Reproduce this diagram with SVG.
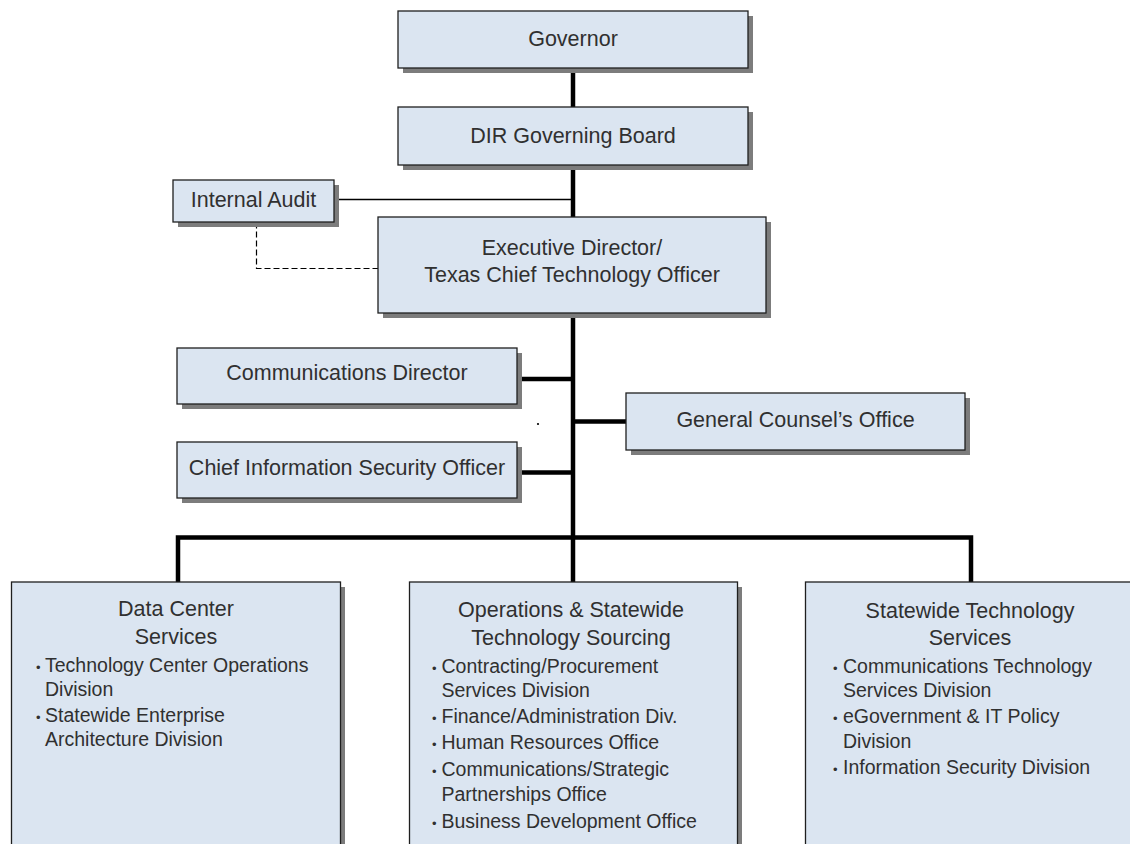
<svg xmlns="http://www.w3.org/2000/svg" width="1130" height="844" viewBox="0 0 1130 844">
<style>
.box{fill:#dbe5f1;stroke:#1f1f1f;stroke-width:1.3}
.sh{fill:#7c7c7c}
.t{font-family:"Liberation Sans",Arial,sans-serif;font-size:21.5px;fill:#303030;text-anchor:middle}
.b{font-family:"Liberation Sans",Arial,sans-serif;font-size:19.5px;fill:#303030}
.d{font-family:"Liberation Sans",Arial,sans-serif;font-size:13px;fill:#303030}
.thick{stroke:#000;stroke-width:4.5;fill:none}
.thin{stroke:#000;stroke-width:1.3;fill:none}
.dash{stroke:#000;stroke-width:1.2;fill:none;stroke-dasharray:6 3}
</style>
<rect width="1130" height="844" fill="#fff"/>
<g id="connectors">
<line class="thick" x1="573" y1="68" x2="573" y2="108"/>
<line class="thick" x1="573" y1="165" x2="573" y2="218"/>
<line class="thin" x1="334" y1="199.5" x2="573" y2="199.5"/>
<polyline class="dash" points="256.5,222.5 256.5,268.5 378,268.5"/>
<line class="thick" x1="573" y1="313" x2="573" y2="582"/>
<line class="thick" x1="517" y1="379" x2="573" y2="379"/>
<line class="thick" x1="573" y1="421.5" x2="626" y2="421.5"/>
<line class="thick" x1="517" y1="472.5" x2="575" y2="472.5"/>
<path class="thick" d="M178,582 V537.5 H971 V582" stroke-linejoin="miter"/>
<circle cx="538" cy="424" r="1.1" fill="#000"/>
</g>
<g id="governor">
<rect class="sh" x="403" y="16" width="350" height="57"/>
<rect class="box" x="398" y="11" width="350" height="57"/>
<text class="t" x="573" y="46">Governor</text>
</g>
<g id="dir-board">
<rect class="sh" x="403" y="112" width="350" height="58"/>
<rect class="box" x="398" y="107" width="350" height="58"/>
<text class="t" x="573" y="143">DIR Governing Board</text>
</g>
<g id="internal-audit">
<rect class="sh" x="178" y="185" width="161" height="42"/>
<rect class="box" x="173" y="180" width="161" height="42"/>
<text class="t" x="253.5" y="207">Internal Audit</text>
</g>
<g id="executive-director">
<rect class="sh" x="383" y="222" width="388" height="96"/>
<rect class="box" x="378" y="217" width="388" height="96"/>
<text class="t" x="572" y="254.5">Executive Director/</text>
<text class="t" x="572" y="282">Texas Chief Technology Officer</text>
</g>
<g id="communications-director">
<rect class="sh" x="182" y="353" width="340" height="56"/>
<rect class="box" x="177" y="348" width="340" height="56"/>
<text class="t" x="347" y="380">Communications Director</text>
</g>
<g id="general-counsel">
<rect class="sh" x="631" y="398" width="339" height="57"/>
<rect class="box" x="626" y="393" width="339" height="57"/>
<text class="t" x="795.5" y="427">General Counsel’s Office</text>
</g>
<g id="ciso">
<rect class="sh" x="182" y="447" width="340" height="56"/>
<rect class="box" x="177" y="442" width="340" height="56"/>
<text class="t" x="347" y="475">Chief Information Security Officer</text>
</g>
<g id="data-center-services">
<rect class="sh" x="16" y="587" width="329" height="270"/>
<rect class="box" x="11.5" y="582" width="329" height="270"/>
<text class="t" x="176" y="616">Data Center</text>
<text class="t" x="176" y="644">Services</text>
<text class="d" x="36" y="672">•</text><text class="b" x="45" y="672">Technology Center Operations</text>
<text class="b" x="45" y="696">Division</text>
<text class="d" x="36" y="722">•</text><text class="b" x="45" y="722">Statewide Enterprise</text>
<text class="b" x="45" y="746">Architecture Division</text>
</g>
<g id="operations-sourcing">
<rect class="sh" x="414" y="587" width="328" height="270"/>
<rect class="box" x="409.5" y="582" width="328" height="270"/>
<text class="t" x="571" y="617">Operations &amp; Statewide</text>
<text class="t" x="571" y="645">Technology Sourcing</text>
<text class="d" x="432" y="673">•</text><text class="b" x="441.5" y="673">Contracting/Procurement</text>
<text class="b" x="441.5" y="697">Services Division</text>
<text class="d" x="432" y="723">•</text><text class="b" x="441.5" y="723">Finance/Administration Div.</text>
<text class="d" x="432" y="749">•</text><text class="b" x="441.5" y="749">Human Resources Office</text>
<text class="d" x="432" y="776">•</text><text class="b" x="441.5" y="776">Communications/Strategic</text>
<text class="b" x="441.5" y="801">Partnerships Office</text>
<text class="d" x="432" y="828">•</text><text class="b" x="441.5" y="828">Business Development Office</text>
</g>
<g id="statewide-technology-services">
<rect class="sh" x="810" y="587" width="330" height="270"/>
<rect class="box" x="805.5" y="582" width="330" height="270"/>
<text class="t" x="970" y="618">Statewide Technology</text>
<text class="t" x="970" y="645">Services</text>
<text class="d" x="833" y="673">•</text><text class="b" x="843" y="673">Communications Technology</text>
<text class="b" x="843" y="697">Services Division</text>
<text class="d" x="833" y="723">•</text><text class="b" x="843" y="723">eGovernment &amp; IT Policy</text>
<text class="b" x="843" y="748">Division</text>
<text class="d" x="833" y="774">•</text><text class="b" x="843" y="774">Information Security Division</text>
</g>
</svg>
